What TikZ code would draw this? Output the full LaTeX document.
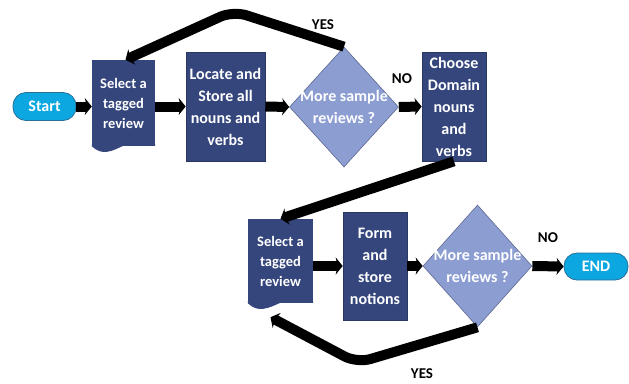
\documentclass[tikz,border=0pt]{standalone}
\usepackage{fontspec}
\setmainfont{Carlito}
\usetikzlibrary{arrows.meta, shapes.geometric}
\definecolor{procBlue}{HTML}{35467D}
\definecolor{procEdge}{HTML}{2A3763}
\definecolor{decideBlue}{HTML}{8C9DD2}
\definecolor{decideEdge}{HTML}{5E6790}
\definecolor{termCyan}{HTML}{0CA7E0}
\definecolor{termEdge}{HTML}{2A6F98}

\begin{document}
\begin{tikzpicture}[x=1pt, y=-1pt,
      every node/.style={font=\fontsize{16}{22}\selectfont\bfseries, text=white, align=center, inner sep=0pt},
      procbox/.style={rectangle, fill=procBlue, draw=procEdge, line width=0.6pt},
      docbox/.style={rectangle, fill=procBlue, font=\fontsize{14.5}{20}\selectfont\bfseries},
      decision/.style={diamond, fill=decideBlue, draw=decideEdge, line width=0.6pt, minimum width=109pt, minimum height=120pt},
      terminal/.style={rectangle, rounded corners=13pt, fill=termCyan, draw=termEdge, line width=0.8pt, minimum width=63pt, minimum height=28pt},
      flow/.style={line width=10pt, -{Stealth[length=7pt, width=17pt, inset=2pt]}},
      answer/.style={text=black, font=\fontsize{15}{16}\selectfont\bfseries}]
      \useasboundingbox (0,0) rectangle (629,383);

      % First pass over the reviews
      \node[terminal] (start) at (44.5,106.5) {Start};
      \node[docbox, minimum width=63pt, minimum height=86pt] (sel1) at (123.5,103) {Select a\\tagged\\review};
      \fill[procBlue] ([yshift=2pt]sel1.south west) -- (sel1.south west) .. controls +(20,20) and +(-23,-20) .. (sel1.south east) -- ([yshift=2pt]sel1.south east) -- cycle;
      \node[procbox, minimum width=79pt, minimum height=109pt] (loc) at (225.5,106.5) {Locate and\\Store all\\nouns and\\verbs};
      \node[decision] (dec1) at (344,107) {};
      \node (dec1txt) at (dec1) {More sample\\reviews ?};
      \node[procbox, minimum width=64pt, minimum height=109pt] (dom) at (454,106.5) {Choose\\Domain\\nouns\\and\\verbs};
      \coordinate (peak1) at (233,11);

      \draw[flow] (start.east) -- (start.east -| sel1.west);
      \draw[flow] (loc.west -| sel1.east) -- (loc.west);
      \draw[flow] (loc.east) -- (dec1.west);
      \draw[flow] (dec1.east) -- (dom.west);
      \draw[flow, rounded corners=14pt] (dec1.north) -- (peak1) -- ([xshift=2pt]sel1.north);
      \node[answer] (yes1) at (323,25) {YES};
      \node[answer] (no1) at (402,79) {NO};

      % Second pass: notions
      \node[docbox, minimum width=65pt, minimum height=84pt] (sel2) at (280.5,261) {Select a\\tagged\\review};
      \fill[procBlue] ([yshift=2pt]sel2.south west) -- (sel2.south west) .. controls +(20,20) and +(-23,-20) .. (sel2.south east) -- ([yshift=2pt]sel2.south east) -- cycle;
      \node[procbox, minimum width=64pt, minimum height=108pt] (form) at (375,266) {Form\\and\\store\\notions};
      \node[decision, minimum height=122pt] (dec2) at (477.5,266) {};
      \node (dec2txt) at (dec2) {More sample\\reviews ?};
      \node[terminal, minimum width=64pt, minimum height=27pt] (stop) at (596,266.5) {END};
      \coordinate (dip2) at (357,363);

      \draw[flow] (dom.south) -- (sel2.north);
      \draw[flow] (form.west -| sel2.east) -- (form.west);
      \draw[flow] (form.east) -- (dec2.west);
      \draw[flow] (dec2.east) -- (stop.west);
      \draw[flow, rounded corners=14pt] (dec2.south) -- (dip2) -- ([xshift=-10pt, yshift=-14pt]sel2.south);
      \node[answer] (no2) at (548,238) {NO};
      \node[answer] (yes2) at (422,374) {YES};
\end{tikzpicture}
\end{document}
